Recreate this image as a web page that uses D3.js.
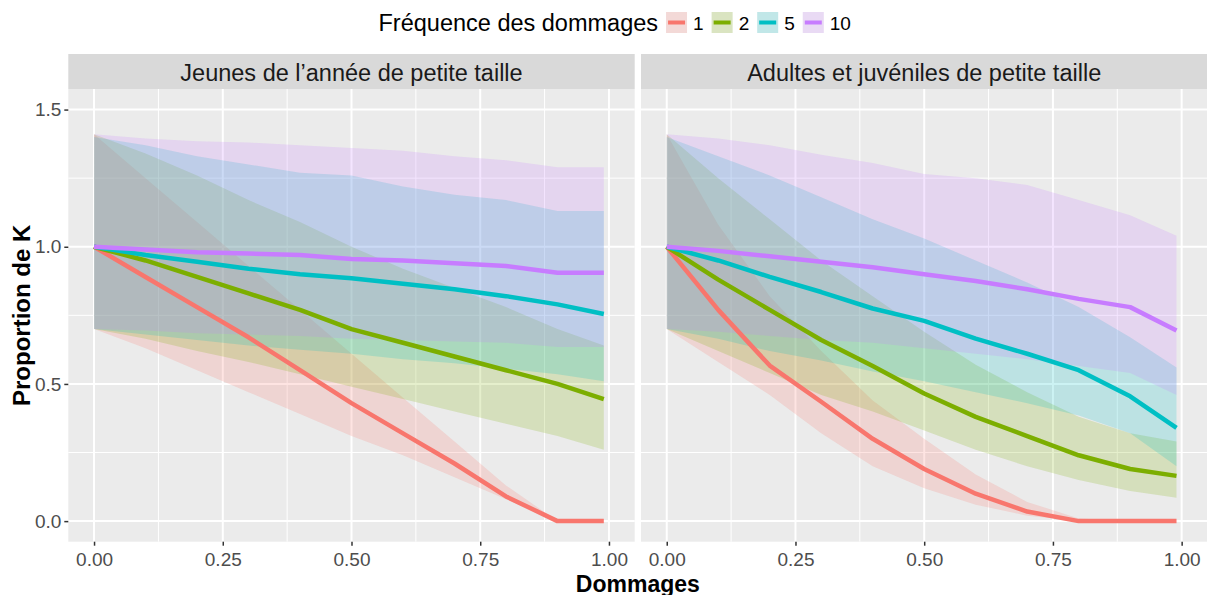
<!DOCTYPE html>
<html>
<head>
<meta charset="utf-8">
<script src="https://cdn.jsdelivr.net/npm/d3@7"></script>
<style>
  body { margin: 0; background: #fff; }
  text { font-family: "Liberation Sans", Arial, sans-serif; }
</style>
</head>
<body>
<svg id="chart" width="1207" height="595"></svg>
<script>
// x values (proportion of damage)
const dommages = [0, 0.1, 0.2, 0.3, 0.4, 0.5, 0.6, 0.7, 0.8, 0.9, 0.99];

const frequences = ["1", "2", "5", "10"];
const couleurs = ["#F8766D", "#7CAE00", "#00BFC4", "#C77CFF"];
const panneaux = ["Jeunes de l\u2019ann\u00e9e de petite taille", "Adultes et juv\u00e9niles de petite taille"];

// Jeunes de l'année : moyenne, borne basse, borne haute
const jeunes1 = [1.0, 0.89, 0.78, 0.67, 0.55, 0.43, 0.32, 0.21, 0.09, 0.0, 0.0];
const jeunes1Bas = [0.70, 0.63, 0.55, 0.47, 0.39, 0.31, 0.24, 0.16, 0.08, 0.0, 0.0];
const jeunes1Haut = [1.41, 1.25, 1.09, 0.93, 0.77, 0.61, 0.45, 0.29, 0.13, 0.0, 0.0];
const jeunes2 = [1.0, 0.95, 0.89, 0.83, 0.77, 0.70, 0.65, 0.60, 0.55, 0.50, 0.445];
const jeunes2Bas = [0.70, 0.665, 0.62, 0.58, 0.535, 0.49, 0.445, 0.40, 0.355, 0.31, 0.26];
const jeunes2Haut = [1.41, 1.34, 1.26, 1.17, 1.09, 1.00, 0.92, 0.85, 0.78, 0.70, 0.64];
const jeunes5 = [1.0, 0.97, 0.945, 0.92, 0.90, 0.885, 0.865, 0.845, 0.82, 0.79, 0.755];
const jeunes5Bas = [0.70, 0.68, 0.66, 0.64, 0.625, 0.61, 0.59, 0.575, 0.555, 0.535, 0.51];
const jeunes5Haut = [1.40, 1.37, 1.33, 1.30, 1.27, 1.26, 1.22, 1.19, 1.17, 1.13, 1.13];
const jeunes10 = [1.0, 0.99, 0.98, 0.975, 0.97, 0.955, 0.95, 0.94, 0.93, 0.905, 0.905];
const jeunes10Bas = [0.70, 0.695, 0.685, 0.68, 0.675, 0.665, 0.66, 0.655, 0.65, 0.635, 0.635];
const jeunes10Haut = [1.41, 1.395, 1.385, 1.38, 1.37, 1.36, 1.35, 1.33, 1.315, 1.29, 1.29];

// Adultes et juvéniles
const adultes1 = [1.0, 0.77, 0.567, 0.435, 0.30, 0.19, 0.10, 0.035, 0.0, 0.0, 0.0];
const adultes1Bas = [0.70, 0.58, 0.46, 0.32, 0.20, 0.12, 0.06, 0.02, 0.0, 0.0, 0.0];
const adultes1Haut = [1.41, 1.08, 0.82, 0.62, 0.44, 0.30, 0.17, 0.07, 0.01, 0.0, 0.0];
const adultes2 = [1.0, 0.88, 0.77, 0.66, 0.565, 0.465, 0.38, 0.31, 0.24, 0.19, 0.165];
const adultes2Bas = [0.70, 0.62, 0.54, 0.46, 0.40, 0.33, 0.26, 0.20, 0.15, 0.11, 0.085];
const adultes2Haut = [1.41, 1.25, 1.10, 0.95, 0.82, 0.69, 0.57, 0.47, 0.38, 0.32, 0.29];
const adultes5 = [1.0, 0.95, 0.89, 0.835, 0.775, 0.73, 0.665, 0.61, 0.55, 0.455, 0.34];
const adultes5Bas = [0.70, 0.665, 0.62, 0.585, 0.545, 0.51, 0.47, 0.43, 0.385, 0.32, 0.20];
const adultes5Haut = [1.40, 1.33, 1.26, 1.18, 1.10, 1.03, 0.95, 0.87, 0.78, 0.67, 0.56];
const adultes10 = [1.0, 0.985, 0.965, 0.945, 0.925, 0.90, 0.875, 0.845, 0.81, 0.78, 0.695];
const adultes10Bas = [0.70, 0.69, 0.675, 0.66, 0.65, 0.63, 0.61, 0.59, 0.565, 0.54, 0.46];
const adultes10Haut = [1.41, 1.395, 1.37, 1.335, 1.305, 1.265, 1.25, 1.225, 1.17, 1.115, 1.04];

const xTicks = [0, 0.25, 0.5, 0.75, 1];
const xMinor = [0.125, 0.375, 0.625, 0.875];
const yTicks = [0, 0.5, 1, 1.5];
const yMinor = [0.25, 0.75, 1.25];

const series = [
    [[jeunes1, jeunes1Bas, jeunes1Haut], [jeunes2, jeunes2Bas, jeunes2Haut],
     [jeunes5, jeunes5Bas, jeunes5Haut], [jeunes10, jeunes10Bas, jeunes10Haut]],
    [[adultes1, adultes1Bas, adultes1Haut], [adultes2, adultes2Bas, adultes2Haut],
     [adultes5, adultes5Bas, adultes5Haut], [adultes10, adultes10Bas, adultes10Haut]]
];

const svg = d3.select("#chart");

const panelTop = 89, panelBottom = 541.7;
const stripTop = 54;
const panelLeft = [68.3, 641];
const panelW = 566.4;

const y = d3.scaleLinear().domain([-0.075, 1.575]).range([panelBottom, panelTop]);

panneaux.forEach((titre, p) => {
    let x0 = panelLeft[p];
    let x = d3.scaleLinear().domain([-0.05, 1.05]).range([x0, x0 + panelW]);
    let g = svg.append("g");

    // strip
    g.append("rect")
        .attr("x", x0).attr("y", stripTop)
        .attr("width", panelW).attr("height", panelTop - stripTop)
        .attr("fill", "#D9D9D9");
    g.append("text")
        .attr("x", x0 + panelW / 2).attr("y", 80.5)
        .attr("text-anchor", "middle")
        .attr("font-size", 23.5)
        .attr("fill", "#1A1A1A")
        .text(titre);

    // panel background + grid
    g.append("rect")
        .attr("x", x0).attr("y", panelTop)
        .attr("width", panelW).attr("height", panelBottom - panelTop)
        .attr("fill", "#EBEBEB");

    g.append("g").selectAll("line").data(xMinor).join("line")
        .attr("x1", d => x(d)).attr("x2", d => x(d))
        .attr("y1", panelTop).attr("y2", panelBottom)
        .attr("stroke", "#fff").attr("stroke-width", 1);
    g.append("g").selectAll("line").data(yMinor).join("line")
        .attr("x1", x0).attr("x2", x0 + panelW)
        .attr("y1", d => y(d)).attr("y2", d => y(d))
        .attr("stroke", "#fff").attr("stroke-width", 1);
    g.append("g").selectAll("line").data(xTicks).join("line")
        .attr("x1", d => x(d)).attr("x2", d => x(d))
        .attr("y1", panelTop).attr("y2", panelBottom)
        .attr("stroke", "#fff").attr("stroke-width", 2);
    g.append("g").selectAll("line").data(yTicks).join("line")
        .attr("x1", x0).attr("x2", x0 + panelW)
        .attr("y1", d => y(d)).attr("y2", d => y(d))
        .attr("stroke", "#fff").attr("stroke-width", 2);

    // ribbons
    let area = d3.area()
        .x((d, i) => x(dommages[i]))
        .y0(d => y(d[0]))
        .y1(d => y(d[1]));
    series[p].forEach((s, k) => {
        let pts = dommages.map((_, i) => [s[1][i], s[2][i]]);
        g.append("path")
            .attr("d", area(pts))
            .attr("fill", couleurs[k])
            .attr("fill-opacity", 0.2);
    });

    // lines
    let line = d3.line()
        .x((d, i) => x(dommages[i]))
        .y(d => y(d));
    series[p].forEach((s, k) => {
        g.append("path")
            .attr("d", line(s[0]))
            .attr("fill", "none")
            .attr("stroke", couleurs[k])
            .attr("stroke-width", 4.5)
            .attr("stroke-linejoin", "round");
    });

    // x axis
    let xAxis = d3.axisBottom(x).tickValues(xTicks).tickFormat(d3.format(".2f")).tickSize(4).tickPadding(7);
    let ax = g.append("g").attr("transform", `translate(0,${panelBottom})`).call(xAxis);
    ax.select(".domain").remove();
    ax.selectAll("line").attr("stroke", "#333").attr("stroke-width", 1.5);
    ax.selectAll("text").attr("font-size", 19).attr("fill", "#4D4D4D")
        .attr("font-family", "Liberation Sans, Arial, sans-serif");

    if (p === 0) {
        let yAxis = d3.axisLeft(y).tickValues(yTicks).tickFormat(d3.format(".1f")).tickSize(4).tickPadding(3);
        let ay = g.append("g").attr("transform", `translate(${x0},0)`).call(yAxis);
        ay.select(".domain").remove();
        ay.selectAll("line").attr("stroke", "#333").attr("stroke-width", 1.5);
        ay.selectAll("text").attr("font-size", 19).attr("fill", "#4D4D4D")
            .attr("font-family", "Liberation Sans, Arial, sans-serif");
    }
});

// axis titles
svg.append("text")
    .attr("x", (panelLeft[0] + panelLeft[1] + panelW) / 2).attr("y", 591.5)
    .attr("text-anchor", "middle")
    .attr("font-size", 23).attr("font-weight", "bold")
    .text("Dommages");
svg.append("text")
    .attr("transform", `translate(29.5,${(panelTop + panelBottom) / 2}) rotate(-90)`)
    .attr("text-anchor", "middle")
    .attr("font-size", 24).attr("font-weight", "bold")
    .text("Proportion de K");

// legend
let leg = svg.append("g");
let titre = leg.append("text")
    .attr("x", 378.5).attr("y", 31)
    .attr("font-size", 23.5)
    .text("Fr\u00e9quence des dommages");
let cx = 378.5 + titre.node().getComputedTextLength() + 8;
frequences.forEach((f, k) => {
    leg.append("rect")
        .attr("x", cx).attr("y", 12).attr("width", 21).attr("height", 21)
        .attr("fill", "#F2F2F2");
    leg.append("rect")
        .attr("x", cx).attr("y", 12).attr("width", 21).attr("height", 21)
        .attr("fill", couleurs[k]).attr("fill-opacity", 0.2);
    leg.append("line")
        .attr("x1", cx + 2).attr("x2", cx + 19)
        .attr("y1", 22.5).attr("y2", 22.5)
        .attr("stroke", couleurs[k]).attr("stroke-width", 4);
    let t = leg.append("text")
        .attr("x", cx + 27).attr("y", 29.5)
        .attr("font-size", 19)
        .text(f);
    cx += 27 + t.node().getComputedTextLength() + 8;
});
</script>
</body>
</html>
